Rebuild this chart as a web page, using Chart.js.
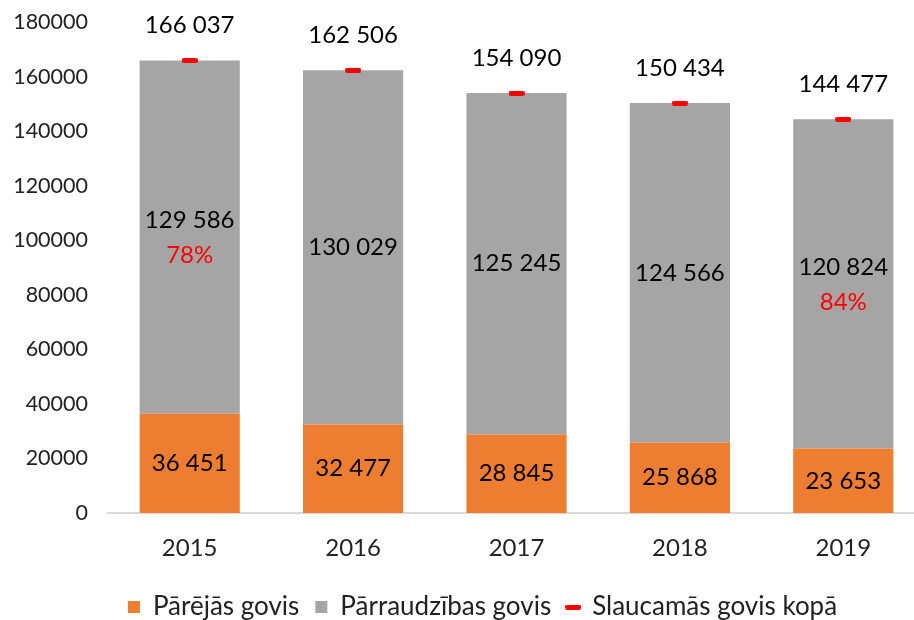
<!DOCTYPE html>
<html>
<head>
<meta charset="utf-8">
<script src="https://cdn.jsdelivr.net/npm/chart.js@4/dist/chart.umd.min.js"></script>
<style>
html,body{margin:0;padding:0;background:#fff;overflow:hidden;width:914px;height:620px;}
#wrap{width:930px;height:630px;}
</style>
</head>
<body>
<div id="wrap"><canvas id="c" width="930" height="630"></canvas></div>
<script>
const years = ['2015', '2016', '2017', '2018', '2019'];
const otherCows = [36451, 32477, 28845, 25868, 23653];
const recordedCows = [129586, 130029, 125245, 124566, 120824];
const totalCows = [166037, 162506, 154090, 150434, 144477];
const recordedShare = ['78%', '', '', '', '84%'];
const seriesNames = ['Pārējās govis', 'Pārraudzības govis', 'Slaucamās govis kopā'];

const FONT = 'Lato, "Open Sans", sans-serif';

function fmt(v) { return String(v).replace(/\B(?=(\d{3})+(?!\d))/g, ' '); }

// red dash marker
const dash = document.createElement('canvas');
dash.width = 16; dash.height = 5;
(function(){
  const g = dash.getContext('2d');
  g.fillStyle = '#ff0000';
  g.beginPath();
  if (g.roundRect) g.roundRect(0, 0, 16, 5, 2); else g.rect(0, 0, 16, 5);
  g.fill();
})();

const labelPlugin = {
  id: 'valueLabels',
  afterLayout(chart) {
    if (chart.legend) chart.legend.left += 40;
  },
  afterDatasetsDraw(chart) {
    const ctx = chart.ctx;
    ctx.save();
    ctx.textAlign = 'center';
    ctx.textBaseline = 'middle';
    ctx.font = '24px ' + FONT;
    const m0 = chart.getDatasetMeta(0), m1 = chart.getDatasetMeta(1), m2 = chart.getDatasetMeta(2);
    m0.data.forEach((el, i) => {
      ctx.fillStyle = '#000';
      ctx.fillText(fmt(otherCows[i]), el.x, (el.y + el.base) / 2);
    });
    m1.data.forEach((el, i) => {
      const cy = (el.y + el.base) / 2;
      if (recordedShare[i]) {
        ctx.fillStyle = '#000';
        ctx.fillText(fmt(recordedCows[i]), el.x, cy - 17);
        ctx.fillStyle = '#ff0000';
        ctx.fillText(recordedShare[i], el.x, cy + 18);
      } else {
        ctx.fillStyle = '#000';
        ctx.fillText(fmt(recordedCows[i]), el.x, cy);
      }
    });
    m2.data.forEach((el, i) => {
      ctx.fillStyle = '#000';
      ctx.fillText(fmt(totalCows[i]), el.x, el.y - 35);
    });
    ctx.restore();
  }
};

new Chart(document.getElementById('c'), {
  data: {
    labels: years,
    datasets: [
      { type: 'bar', label: seriesNames[0], data: otherCows, backgroundColor: '#ed7d31', borderWidth: 0, pointStyle: 'rect', order: 2, stack: 's' },
      { type: 'bar', label: seriesNames[1], data: recordedCows, backgroundColor: '#a5a5a5', borderWidth: 0, pointStyle: 'rect', order: 2, stack: 's' },
      { type: 'line', label: seriesNames[2], data: totalCows, showLine: false, pointStyle: dash, borderColor: '#ff0000', backgroundColor: '#ff0000', borderWidth: 0, order: 0, stack: 'total' }
    ]
  },
  options: {
    responsive: false,
    devicePixelRatio: 1,
    animation: false,
    layout: { padding: { left: 0, right: 5, top: 22.5, bottom: 0 } },
    datasets: { bar: { categoryPercentage: 1, barPercentage: 0.613 } },
    scales: {
      x: {
        stacked: true,
        grid: { display: false, drawTicks: false },
        border: { display: true, color: '#d9d9d9', width: 2 },
        ticks: { color: '#222', font: { family: FONT, size: 24 }, padding: 21 },
        afterFit(s) { s.height = 65; }
      },
      y: {
        stacked: true,
        min: 0, max: 180000,
        grid: { display: false, drawTicks: false },
        border: { display: false },
        ticks: { stepSize: 20000, color: '#222', font: { family: FONT, size: 21.5 }, padding: 20, callback: v => String(v) },
        afterFit(s) { s.width = 108; s.paddingTop = 0; s.paddingBottom = 0; }
      }
    },
    plugins: {
      tooltip: { enabled: false },
      legend: {
        position: 'bottom',
        labels: {
          usePointStyle: true,
          boxWidth: 12, boxHeight: 12,
          padding: 16,
          color: '#222',
          font: { family: FONT, size: 26 },
          sort: (a, b) => a.datasetIndex - b.datasetIndex
        }
      }
    }
  },
  plugins: [labelPlugin]
});
</script>
</body>
</html>
